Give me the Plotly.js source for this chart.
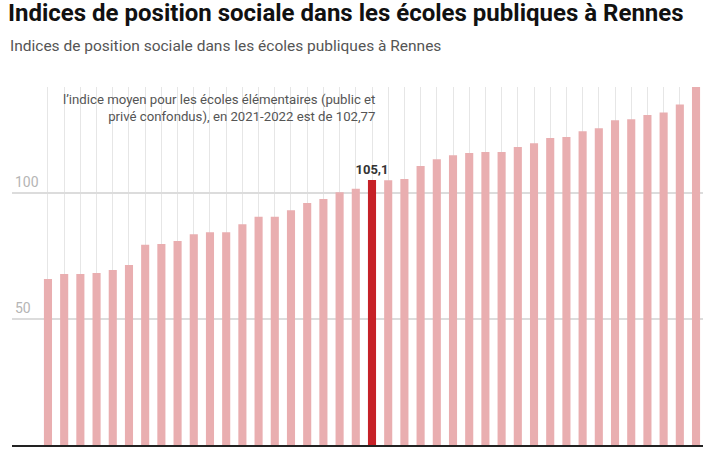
<!DOCTYPE html>
<html>
<head>
<meta charset="utf-8">
<script src="https://cdn.plot.ly/plotly-3.0.1.min.js"></script>
<style>html,body{margin:0;padding:0;background:#fff}#chart{width:720px;height:450px}</style>
</head>
<body>
<div id="chart"></div>
<script>
// Rang des écoles (triées par indice croissant)
const rangs = [1,2,3,4,5,6,7,8,9,10,11,12,13,14,15,16,17,18,19,20,21,22,23,24,25,26,27,28,29,30,31,32,33,34,35,36,37,38,39,40,41];
// Indice de position sociale
const indices = [65.8, 67.8, 67.8, 68.2, 69.4, 71.4, 79.4, 79.7, 80.9, 83.6,
                 84.4, 84.4, 87.6, 90.5, 90.5, 93.1, 96.0, 97.6, 100.3, 101.6,
                 105.1, 105.0, 105.5, 110.7, 113.3, 114.9, 115.8, 116.2, 116.2, 118.2,
                 119.7, 121.8, 122.2, 124.4, 125.6, 128.8, 129.2, 130.9, 131.9, 135.1,
                 142.0];
const rangMisEnAvant = 21;
const yTicks = [50, 100];
const yTickLabels = ["50", "100"];
const titre = "Indices de position sociale dans les écoles publiques à Rennes";
const sousTitre = "Indices de position sociale dans les écoles publiques à Rennes";
const note = "l’indice moyen pour les écoles élémentaires (public et<br>privé confondus), en 2021-2022 est de 102,77";

const colors = rangs.map(r => r === rangMisEnAvant ? "#c62127" : "#e9aeb0");
const texts = rangs.map((r, i) => r === rangMisEnAvant ? indices[i].toFixed(1).replace(".", ",") : "");

const trace = {
  type: "bar",
  x: rangs,
  y: indices,
  marker: {color: colors},
  text: texts,
  textposition: "outside",
  constraintext: "none",
  cliponaxis: false,
  textfont: {family: "Roboto", size: 13, color: "#333", weight: "bold"},
  hoverinfo: "skip"
};

const layout = {
  width: 720, height: 450,
  margin: {l: 12, r: 17, t: 87, b: 5},
  paper_bgcolor: "#fff", plot_bgcolor: "#fff",
  bargap: 0.5,
  showlegend: false,
  separators: ", ",
  title: {
    text: "<b>" + titre + "</b>",
    font: {family: "Roboto", size: 24, color: "#111"},
    x: 8/720, xanchor: "left", xref: "container",
    y: 1 - 13/450, yanchor: "middle", yref: "container"
  },
  xaxis: {
    range: [-1.22, 41.43],
    showgrid: true, gridcolor: "#e6e6e6", gridwidth: 1,
    tickmode: "linear", tick0: 1, dtick: 1,
    showticklabels: false, ticks: "",
    zeroline: false,
    showline: true, linecolor: "#222", linewidth: 2
  },
  yaxis: {
    range: [0, 142.0],
    tickvals: yTicks, ticktext: yTickLabels,
    ticklabelposition: "inside",
    ticklabelshift: -11,
    tickfont: {family: "Roboto", size: 14, color: "#b5b5b5"},
    showgrid: true, gridcolor: "#dcdcdc", gridwidth: 1.5,
    zeroline: false, showline: false, ticks: ""
  },
  annotations: [
    {
      text: sousTitre, xref: "paper", yref: "paper",
      x: -4/691, y: (445-46)/358, xanchor: "left", yanchor: "middle",
      showarrow: false, font: {family: "Roboto", size: 15.5, color: "#555"}
    },
    {
      text: note, xref: "paper", yref: "paper", align: "right",
      x: (377-12)/691, y: (445-108)/358, xanchor: "right", yanchor: "middle",
      showarrow: false, font: {family: "Roboto", size: 13.2, color: "#555"}
    }
  ]
};

Plotly.newPlot("chart", [trace], layout, {staticPlot: true, displayModeBar: false});
</script>
</body>
</html>
